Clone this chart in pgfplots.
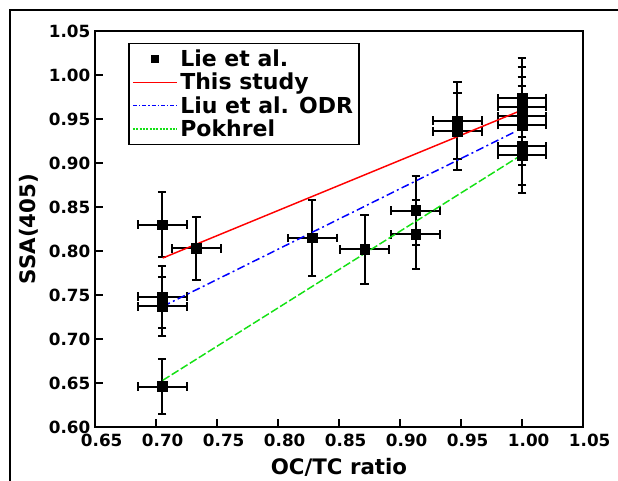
\documentclass[border=0pt]{standalone}
\usepackage{pgfplots}
\pgfplotsset{compat=1.18}
\usepackage{fontspec}
\setmainfont{DejaVu Sans}
\definecolor{pgreen}{RGB}{20,225,20}

\pgfplotstableread{
x     y     ex    ey
0.705 0.830 0.020 0.037
0.733 0.803 0.020 0.036
0.705 0.748 0.020 0.035
0.705 0.737 0.020 0.034
0.705 0.646 0.020 0.031
0.828 0.815 0.020 0.043
0.871 0.802 0.020 0.039
0.913 0.846 0.020 0.039
0.913 0.819 0.020 0.039
0.947 0.948 0.020 0.044
0.947 0.936 0.020 0.044
1.000 0.974 0.020 0.045
1.000 0.964 0.020 0.045
1.000 0.953 0.020 0.045
1.000 0.943 0.020 0.045
1.000 0.919 0.020 0.044
1.000 0.909 0.020 0.043
}\liedata

\begin{document}
\begin{tikzpicture}
\useasboundingbox (0,0) rectangle (463.5pt,360.75pt);
\draw[line width=1.5pt] (7.5pt,0) -- (7.5pt,353.25pt) -- (463.5pt,353.25pt);
\begin{axis}[
  at={(71.25pt,40.5pt)}, anchor=south west,
  scale only axis, width=366pt, height=297pt,
  xmin=0.65, xmax=1.05, ymin=0.60, ymax=1.05,
  xtick={0.65,0.70,0.75,0.80,0.85,0.90,0.95,1.00,1.05},
  ytick={0.60,0.65,0.70,0.75,0.80,0.85,0.90,0.95,1.00,1.05},
  tick pos=left, tick align=inside, major tick length=6pt,
  axis line style={line width=1.5pt},
  every tick/.style={black,line width=1.2pt},
  /pgf/number format/.cd, fixed, fixed zerofill, precision=2, assume math mode=true,
  /pgfplots/.cd,
  tick label style={font=\fontsize{12.6}{14}\selectfont\bfseries},
  xticklabel style={xshift=5pt,yshift=-2pt},
  xlabel={OC/TC ratio}, ylabel={SSA(405)},
  label style={font=\fontsize{16}{19}\selectfont\bfseries},
  xlabel style={at={(axis description cs:0.5,-0.101)}, anchor=center},
  ylabel style={at={(axis description cs:-0.135,0.5)}, anchor=center},
  legend style={at={(0.068,0.97)}, anchor=north west, draw=black, line width=1pt,
    font=\fontsize{16.5}{18}\selectfont\bfseries, cells={anchor=west},
    inner sep=2.5pt, row sep=-0.5pt},
  legend image code/.code={\draw[mark repeat=2,mark phase=2,#1] plot coordinates {(0pt,0pt)(16.5pt,0pt)(33pt,0pt)};},
]
\addplot[only marks, mark=square*, mark size=3.6pt, black,
  legend image post style={mark size=2.6pt},
  error bars/x dir=both, error bars/x explicit,
  error bars/y dir=both, error bars/y explicit,
  error bars/error mark=|,
  error bars/error bar style={line width=1.5pt, black, solid},
  error bars/error mark options={mark size=3.2pt, line width=1.5pt, black}]
  table[x=x, y=y, x error=ex, y error=ey] {\liedata};
\addlegendentry{Lie et al.}

\addplot[red, line width=1.1pt] coordinates {(0.7055,0.792) (0.998,0.959)};
\addlegendentry{This study}
\addplot[blue, line width=1.1pt, dash pattern=on 6pt off 2.5pt on 1.5pt off 2.5pt,
  legend image post style={dash pattern=on 3pt off 1.5pt on 1pt off 1.5pt}] coordinates {(0.7055,0.737) (0.995,0.936)};
\addlegendentry{Liu et al. ODR}
\addplot[pgreen, line width=1.1pt, dash pattern=on 6pt off 2pt,
  legend image post style={dash pattern=on 1.5pt off 1pt}] coordinates {(0.7055,0.653) (0.996,0.906)};
\addlegendentry{Pokhrel}
\end{axis}
\end{tikzpicture}
\end{document}
